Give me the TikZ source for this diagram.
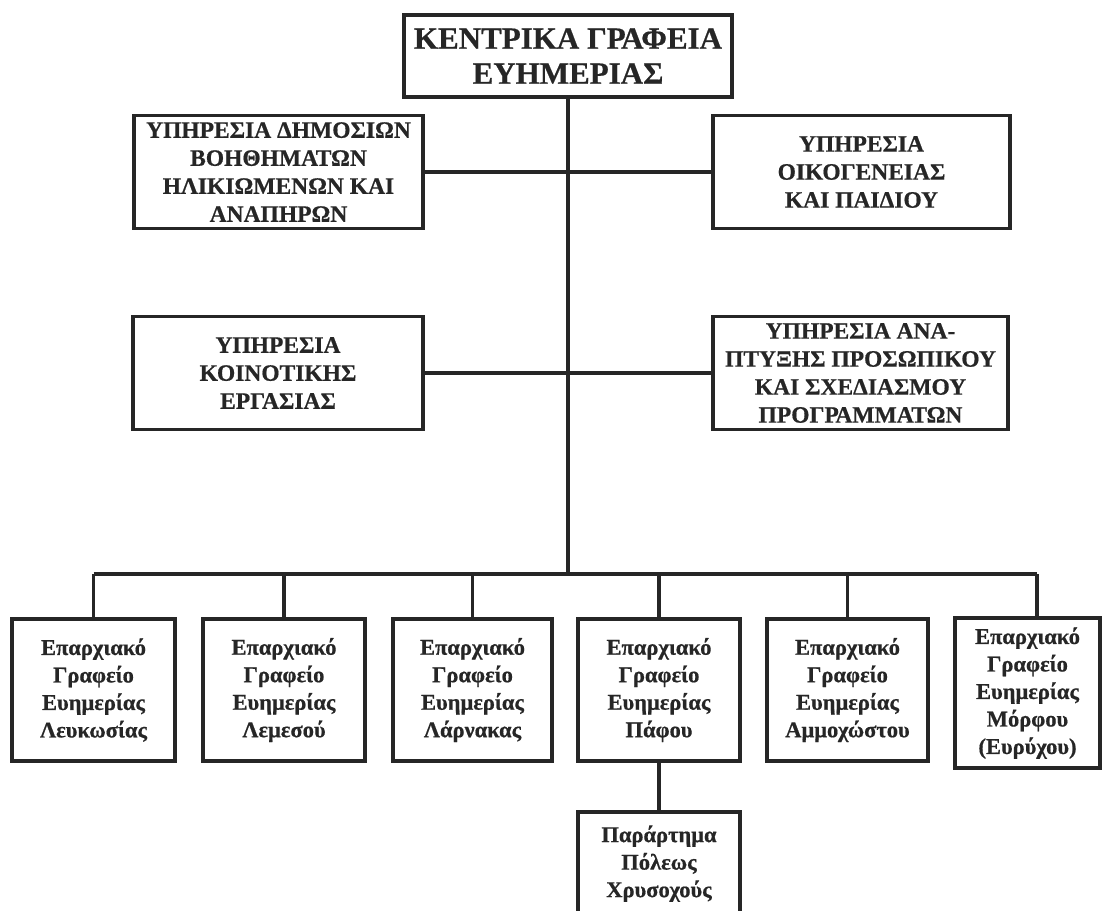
\documentclass[tikz,border=0pt]{standalone}
\usepackage{fontspec}
\setmainfont{Liberation Serif}[BoldFeatures={FakeBold=0.6}]
\begin{document}
\begin{tikzpicture}[x=1pt,y=-1pt,
  box/.style={draw=black!85, line width=3.2pt, align=center, inner sep=0pt, text=black!85},
  topbox/.style={box, font=\bfseries\fontsize{31}{35}\selectfont, minimum width=328pt, minimum height=82pt},
  midbox/.style={box, font=\bfseries\fontsize{23.5}{28}\selectfont, minimum height=113pt},
  locbox/.style={box, font=\bfseries\fontsize{22.5}{27.5}\selectfont, minimum width=162pt, minimum height=142pt},
  link/.style={draw=black!85, line width=3.2pt}]
\useasboundingbox (0,0) rectangle (1107,910);
\clip (0,0) rectangle (1107,910);
\fill[white] (0,0) rectangle (1107,910);

\node[topbox] (hq) at (568,56) {ΚΕΝΤΡΙΚΑ ΓΡΑΦΕΙΑ\\ΕΥΗΜΕΡΙΑΣ};

\node[midbox, minimum width=289pt] (pub) at (278.5,172) {ΥΠΗΡΕΣΙΑ ΔΗΜΟΣΙΩΝ\\ΒΟΗΘΗΜΑΤΩΝ\\ΗΛΙΚΙΩΜΕΝΩΝ ΚΑΙ\\ΑΝΑΠΗΡΩΝ};
\node[midbox, minimum width=297pt] (fam) at (861.5,172) {ΥΠΗΡΕΣΙΑ\\ΟΙΚΟΓΕΝΕΙΑΣ\\ΚΑΙ ΠΑΙΔΙΟΥ};
\node[midbox, minimum width=290pt] (com) at (278,373) {ΥΠΗΡΕΣΙΑ\\ΚΟΙΝΟΤΙΚΗΣ\\ΕΡΓΑΣΙΑΣ};
\node[midbox, minimum width=295pt] (dev) at (860.5,373) {ΥΠΗΡΕΣΙΑ ΑΝΑ-\\ΠΤΥΞΗΣ ΠΡΟΣΩΠΙΚΟΥ\\ΚΑΙ ΣΧΕΔΙΑΣΜΟΥ\\ΠΡΟΓΡΑΜΜΑΤΩΝ};

\node[locbox, minimum width=163pt] (b1) at (93.5,690) {Επαρχιακό\\Γραφείο\\Ευημερίας\\Λευκωσίας};
\node[locbox] (b2) at (284,690) {Επαρχιακό\\Γραφείο\\Ευημερίας\\Λεμεσού};
\node[locbox, minimum width=159pt] (b3) at (472.5,690) {Επαρχιακό\\Γραφείο\\Ευημερίας\\Λάρνακας};
\node[locbox] (b4) at (659,690) {Επαρχιακό\\Γραφείο\\Ευημερίας\\Πάφου};
\node[locbox, minimum width=161pt] (b5) at (847.5,690) {Επαρχιακό\\Γραφείο\\Ευημερίας\\Αμμοχώστου};
\node[locbox, minimum width=145pt, minimum height=150pt] (b6) at (1027.5,693) {Επαρχιακό\\Γραφείο\\Ευημερίας\\Μόρφου\\(Ευρύχου)};

\node[locbox, minimum height=118pt] (sub) at (659,871) {Παράρτημα\\Πόλεως\\Χρυσοχούς\\[-8pt]\mbox{}};

\coordinate (j) at (568,574);
\coordinate (busR) at (1037,574);

\draw[link] (hq.south) -- (j);
\draw[link] (pub.east) -- (fam.west);
\draw[link] (com.east) -- (dev.west);
\draw[link] (b1.north |- j) -- (busR);
\draw[link] (b1.north |- j) -- (b1.north);
\draw[link] (b2.north |- j) -- (b2.north);
\draw[link] (b3.north |- j) -- (b3.north);
\draw[link] (b4.north |- j) -- (b4.north);
\draw[link] (b5.north |- j) -- (b5.north);
\draw[link] (busR) -- (busR |- b6.north);
\draw[link] (b4.south) -- (sub.north);
\end{tikzpicture}
\end{document}
